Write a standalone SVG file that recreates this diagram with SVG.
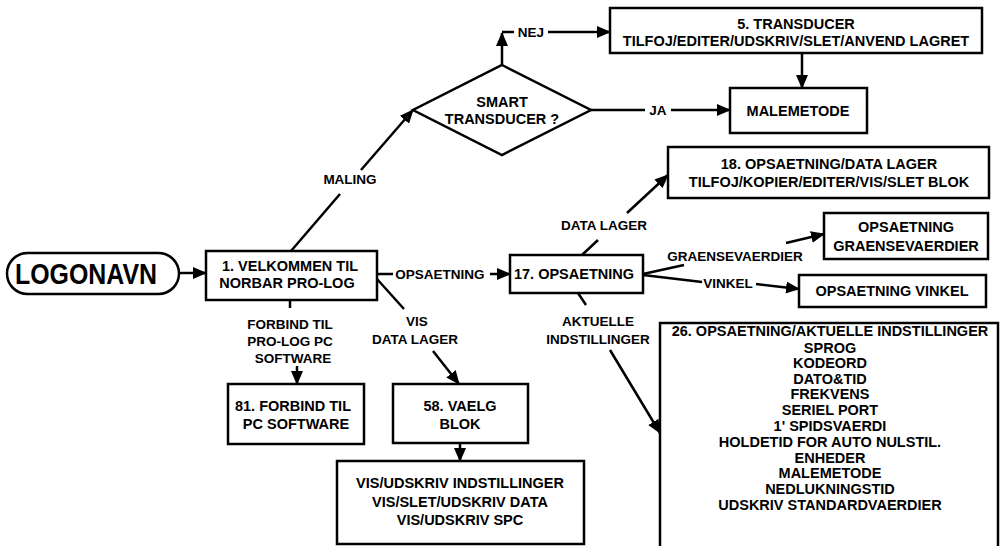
<svg xmlns="http://www.w3.org/2000/svg" width="1000" height="546" viewBox="0 0 1000 546">
<defs>
<marker id="ah" viewBox="0 0 14 12" refX="13" refY="6" markerWidth="14" markerHeight="12" orient="auto" markerUnits="userSpaceOnUse"><path d="M0,0 L14,6 L0,12 z" fill="#000"/></marker>
<style>
.b{fill:#fff;stroke:#000;stroke-width:2.5}
.c{stroke:#000;stroke-width:2.5;fill:none}
.a{stroke:#000;stroke-width:2.5;fill:none;marker-end:url(#ah)}
text{font-family:"Liberation Sans",Arial,sans-serif;font-weight:bold;font-size:14.5px;text-anchor:middle;fill:#000}
.l{font-size:13.5px}
</style>
</defs>
<rect width="1000" height="546" fill="#fff"/>
<g id="connectors">
<line class="a" x1="179" y1="273" x2="206" y2="273"/>
<line class="c" x1="291" y1="251" x2="340" y2="194"/>
<line class="a" x1="361" y1="170" x2="413" y2="110"/>
<line class="a" x1="502" y1="65" x2="502" y2="33"/>
<line class="c" x1="502" y1="32" x2="514" y2="32"/>
<line class="a" x1="548" y1="32" x2="610" y2="32"/>
<line class="c" x1="591" y1="110" x2="645" y2="110"/>
<line class="a" x1="671" y1="110" x2="730" y2="110"/>
<line class="a" x1="802" y1="53" x2="802" y2="88"/>
<line class="c" x1="377" y1="274" x2="393" y2="274"/>
<line class="a" x1="490" y1="274" x2="510" y2="274"/>
<line class="c" x1="377" y1="279" x2="404" y2="309"/>
<line class="a" x1="433" y1="351" x2="459" y2="384"/>
<line class="c" x1="290" y1="300" x2="290" y2="308"/>
<line class="a" x1="297" y1="366" x2="297" y2="384"/>
<line class="a" x1="460" y1="443" x2="460" y2="461"/>
<line class="c" x1="582" y1="255" x2="598" y2="240"/>
<line class="a" x1="627" y1="213" x2="668" y2="175"/>
<line class="c" x1="643" y1="274" x2="684" y2="265"/>
<line class="a" x1="786" y1="243" x2="824" y2="234"/>
<line class="c" x1="643" y1="275" x2="702" y2="282"/>
<line class="a" x1="756" y1="284" x2="799" y2="289"/>
<line class="c" x1="578" y1="293" x2="586" y2="305"/>
<line class="a" x1="610" y1="350" x2="660" y2="433"/>
<text class="l" x="350" y="184">MALING</text>
<text class="l" x="531" y="37">NEJ</text>
<text class="l" x="658" y="115">JA</text>
<text class="l" x="440" y="279">OPSAETNING</text>
<text class="l" x="417" y="326">VIS</text>
<text class="l" x="415" y="344">DATA LAGER</text>
<text class="l" x="290" y="329">FORBIND TIL</text>
<text class="l" x="290" y="346">PRO-LOG PC</text>
<text class="l" x="293" y="363">SOFTWARE</text>
<text class="l" x="604" y="230">DATA LAGER</text>
<text class="l" x="735" y="261">GRAENSEVAERDIER</text>
<text class="l" x="728" y="288">VINKEL</text>
<text class="l" x="598" y="326">AKTUELLE</text>
<text class="l" x="598" y="344">INDSTILLINGER</text>
</g>
<g id="logonavn">
<rect class="b" x="7" y="253" width="172" height="41" rx="20.5"/>
<text x="86" y="284" style="font-size:29px" textLength="142" lengthAdjust="spacingAndGlyphs">LOGONAVN</text>
</g>
<g id="n1">
<rect class="b" x="206" y="251" width="171" height="49"/>
<text x="290" y="271">1. VELKOMMEN TIL</text>
<text x="287" y="288">NORBAR PRO-LOG</text>
</g>
<g id="smart">
<polygon class="b" points="502,65 591,110 502,155 413,110"/>
<text x="502" y="107">SMART</text>
<text x="502" y="124">TRANSDUCER ?</text>
</g>
<g id="n5">
<rect class="b" x="610" y="8" width="372" height="45"/>
<text x="796" y="29">5. TRANSDUCER</text>
<text x="796" y="46">TILFOJ/EDITER/UDSKRIV/SLET/ANVEND LAGRET</text>
</g>
<g id="malemetode">
<rect class="b" x="730" y="88" width="137" height="45"/>
<text x="798" y="116">MALEMETODE</text>
</g>
<g id="n18">
<rect class="b" x="668" y="147" width="321" height="51"/>
<text x="829" y="169">18. OPSAETNING/DATA LAGER</text>
<text x="829" y="187">TILFOJ/KOPIER/EDITER/VIS/SLET BLOK</text>
</g>
<g id="graens">
<rect class="b" x="824" y="213" width="164" height="46"/>
<text x="906" y="232">OPSAETNING</text>
<text x="906" y="251">GRAENSEVAERDIER</text>
</g>
<g id="vinkel">
<rect class="b" x="799" y="275" width="187" height="32"/>
<text x="892" y="296">OPSAETNING VINKEL</text>
</g>
<g id="n17">
<rect class="b" x="510" y="255" width="133" height="38"/>
<text x="574" y="279">17. OPSAETNING</text>
</g>
<g id="n81">
<rect class="b" x="228" y="384" width="136" height="60"/>
<text x="293" y="411">81. FORBIND TIL</text>
<text x="296" y="429">PC SOFTWARE</text>
</g>
<g id="n58">
<rect class="b" x="393" y="384" width="135" height="59"/>
<text x="460" y="411">58. VAELG</text>
<text x="460" y="429">BLOK</text>
</g>
<g id="vis">
<rect class="b" x="337" y="461" width="247" height="83"/>
<text x="460" y="488">VIS/UDSKRIV INDSTILLINGER</text>
<text x="460" y="507">VIS/SLET/UDSKRIV DATA</text>
<text x="460" y="525">VIS/UDSKRIV SPC</text>
</g>
<g id="n26">
<rect class="b" x="660" y="323" width="338" height="240"/>
<text x="830" y="336">26. OPSAETNING/AKTUELLE INDSTILLINGER</text>
<text x="830" y="353">SPROG</text>
<text x="830" y="368">KODEORD</text>
<text x="830" y="384">DATO&amp;TID</text>
<text x="830" y="399">FREKVENS</text>
<text x="830" y="415">SERIEL PORT</text>
<text x="830" y="431">1' SPIDSVAERDI</text>
<text x="830" y="447">HOLDETID FOR AUTO NULSTIL.</text>
<text x="830" y="463">ENHEDER</text>
<text x="830" y="478">MALEMETODE</text>
<text x="830" y="494">NEDLUKNINGSTID</text>
<text x="830" y="510">UDSKRIV STANDARDVAERDIER</text>
</g>
</svg>
